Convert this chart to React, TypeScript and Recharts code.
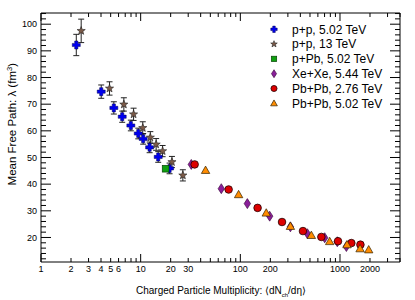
import { ScatterChart, Scatter, XAxis, YAxis, ErrorBar } from 'recharts';

// values
const ppFiveX = [2.26, 4.02, 5.38, 6.53, 7.97, 9.46, 10.6, 12.3, 15.0, 19.5];
const ppFiveY = [92.2, 74.7, 68.6, 65.3, 62.0, 59.0, 57.0, 53.8, 50.2, 45.9];
const ppFiveErr = [4.0, 2.5, 2.3, 2.1, 2.0, 2.0, 2.0, 2.0, 2.0, 2.0];

const ppThirteenX = [2.53, 4.87, 6.78, 8.49, 10.5, 12.5, 14.3, 16.6, 20.6, 26.5];
const ppThirteenY = [97.5, 75.9, 69.9, 66.2, 61.1, 57.5, 54.9, 52.4, 48.3, 43.3];
const ppThirteenErr = [4.4, 2.5, 2.5, 2.3, 2.3, 2.2, 2.2, 2.1, 2.1, 2.1];

const pPbX = [17.8];
const pPbY = [45.8];

const xeXeX = [32.2, 64.4, 117.6, 197, 318, 471, 702, 939, 1159];
const xeXeY = [47.4, 38.3, 32.7, 28.0, 24.0, 21.4, 19.9, 18.4, 16.6];

const pbPb276X = [34.8, 76.3, 149, 262, 425, 650, 955, 1300, 1603];
const pbPb276Y = [47.4, 38.0, 31.1, 25.8, 22.4, 20.2, 18.6, 17.9, 17.3];

const pbPb502X = [44.8, 96.1, 182, 318, 516, 788, 1175, 1590, 1941];
const pbPb502Y = [45.2, 36.1, 29.2, 24.2, 20.8, 18.5, 17.3, 15.8, 15.4];

const legendNames = [
  'p+p, 5.02 TeV',
  'p+p, 13 TeV',
  'p+Pb, 5.02 TeV',
  'Xe+Xe, 5.44 TeV',
  'Pb+Pb, 2.76 TeV',
  'Pb+Pb, 5.02 TeV',
];

const xTicks = [
  1, 2, 3, 4, 5, 6, 7, 8, 9, 10, 20, 30, 40, 50, 60, 70, 80, 90,
  100, 200, 300, 400, 500, 600, 700, 800, 900, 1000, 2000, 3000, 4000,
];
const xLabels = [1, 2, 3, 4, 5, 6, 10, 20, 30, 100, 200, 1000, 2000];
const yTicks = [
  12, 14, 16, 18, 20, 22, 24, 26, 28, 30, 32, 34, 36, 38, 40, 42, 44, 46, 48, 50,
  52, 54, 56, 58, 60, 62, 64, 66, 68, 70, 72, 74, 76, 78, 80, 82, 84, 86, 88, 90,
  92, 94, 96, 98, 100, 102, 104,
];
const yLabels = [20, 30, 40, 50, 60, 70, 80, 90, 100];

const W = 415;
const H = 300;
const L = 41;
const R = 400;
const T = 13;
const B = 262;
const FONT = '"Liberation Sans", Arial, Helvetica, sans-serif';

const zip = (xs: number[], ys: number[], errs?: number[]) =>
  xs.map((x, i) => ({ x, y: ys[i], err: errs ? errs[i] : 0 }));

const isDecade = (v: number) => [1, 10, 100, 1000].includes(v);

function CrossMark({ cx, cy, s = 1 }: { cx: number; cy: number; s?: number }) {
  const a = 4 * s;
  const w = 1.6 * s;
  const d = `M${cx - w},${cy - a} H${cx + w} V${cy - w} H${cx + a} V${cy + w} H${cx + w} V${cy + a} H${cx - w} V${cy + w} H${cx - a} V${cy - w} H${cx - w} Z`;
  return <path d={d} fill="#0000ee" stroke="#000055" strokeWidth={0.5} />;
}

function StarMark({ cx, cy, s = 1 }: { cx: number; cy: number; s?: number }) {
  const pts: string[] = [];
  for (let i = 0; i < 10; i++) {
    const r = (i % 2 === 0 ? 4.3 : 1.8) * s;
    const ang = -Math.PI / 2 + (i * Math.PI) / 5;
    pts.push(`${cx + r * Math.cos(ang)},${cy + r * Math.sin(ang)}`);
  }
  return <polygon points={pts.join(' ')} fill="#7b5a48" stroke="#222" strokeWidth={0.6} />;
}

function SquareMark({ cx, cy, s = 1 }: { cx: number; cy: number; s?: number }) {
  const h = 3.4 * s;
  return <rect x={cx - h} y={cy - h} width={2 * h} height={2 * h} fill="#10a010" stroke="#003300" strokeWidth={0.6} />;
}

function DiamondMark({ cx, cy, s = 1 }: { cx: number; cy: number; s?: number }) {
  const w = 3.2 * s;
  const h = 5 * s;
  return (
    <polygon
      points={`${cx},${cy - h} ${cx + w},${cy} ${cx},${cy + h} ${cx - w},${cy}`}
      fill="#8a1f9a"
      stroke="#330033"
      strokeWidth={0.6}
    />
  );
}

function CircleMark({ cx, cy, s = 1 }: { cx: number; cy: number; s?: number }) {
  return <circle cx={cx} cy={cy} r={3.8 * s} fill="#dd0000" stroke="#220000" strokeWidth={0.8} />;
}

function TriangleMark({ cx, cy, s = 1 }: { cx: number; cy: number; s?: number }) {
  const a = 4.2 * s;
  return (
    <polygon
      points={`${cx},${cy - a} ${cx + a},${cy + a * 0.75} ${cx - a},${cy + a * 0.75}`}
      fill="#ff8c00"
      stroke="#332200"
      strokeWidth={0.7}
    />
  );
}

const legendMarks = [CrossMark, StarMark, SquareMark, DiamondMark, CircleMark, TriangleMark];

function BottomTick(props: any) {
  const { x, payload } = props;
  const v = payload.value;
  const len = isDecade(v) ? 8 : 4;
  return (
    <g>
      <line x1={x} x2={x} y1={B} y2={B - len} stroke="#000" strokeWidth={1} />
      {xLabels.includes(v) && (
        <text x={x} y={B + 10} textAnchor="middle" fontSize={9} fontFamily={FONT} fill="#000">
          {v}
        </text>
      )}
    </g>
  );
}

function TopTick(props: any) {
  const { x, payload } = props;
  const len = isDecade(payload.value) ? 8 : 4;
  return <line x1={x} x2={x} y1={T} y2={T + len} stroke="#000" strokeWidth={1} />;
}

function LeftTick(props: any) {
  const { y, payload } = props;
  const v = payload.value;
  const len = v % 10 === 0 ? 10 : 5;
  return (
    <g>
      <line x1={L} x2={L + len} y1={y} y2={y} stroke="#000" strokeWidth={1} />
      {yLabels.includes(v) && (
        <text x={L - 4} y={y + 3.2} textAnchor="end" fontSize={9} fontFamily={FONT} fill="#000">
          {v}
        </text>
      )}
    </g>
  );
}

function RightTick(props: any) {
  const { y, payload } = props;
  const len = payload.value % 10 === 0 ? 10 : 5;
  return <line x1={R} x2={R - len} y1={y} y2={y} stroke="#000" strokeWidth={1} />;
}

export default function App() {
  const series = [
    { name: legendNames[0], data: zip(ppFiveX, ppFiveY, ppFiveErr), Mark: CrossMark, err: true },
    { name: legendNames[1], data: zip(ppThirteenX, ppThirteenY, ppThirteenErr), Mark: StarMark, err: true },
    { name: legendNames[2], data: zip(pPbX, pPbY), Mark: SquareMark, err: false },
    { name: legendNames[3], data: zip(xeXeX, xeXeY), Mark: DiamondMark, err: false },
    { name: legendNames[4], data: zip(pbPb276X, pbPb276Y), Mark: CircleMark, err: false },
    { name: legendNames[5], data: zip(pbPb502X, pbPb502Y), Mark: TriangleMark, err: false },
  ];

  return (
    <div style={{ position: 'fixed', left: 0, top: 0, width: W, height: H, background: '#fff' }}>
      <ScatterChart width={W} height={H} margin={{ top: 0, right: 0, bottom: 0, left: 0 }}>
        <XAxis
          dataKey="x"
          type="number"
          scale="log"
          domain={[1, 4000]}
          ticks={xTicks}
          interval={0}
          allowDataOverflow
          height={H - B}
          tick={BottomTick}
          tickLine={false}
          axisLine={{ stroke: '#000' }}
        />
        <XAxis
          xAxisId="top"
          orientation="top"
          dataKey="x"
          type="number"
          scale="log"
          domain={[1, 4000]}
          ticks={xTicks}
          interval={0}
          allowDataOverflow
          height={T}
          tick={TopTick}
          tickLine={false}
          axisLine={{ stroke: '#000' }}
        />
        <YAxis
          dataKey="y"
          type="number"
          domain={[10.8, 104.2]}
          ticks={yTicks}
          interval={0}
          allowDataOverflow
          width={L}
          tick={LeftTick}
          tickLine={false}
          axisLine={{ stroke: '#000' }}
        />
        <YAxis
          yAxisId="right"
          orientation="right"
          dataKey="y"
          type="number"
          domain={[10.8, 104.2]}
          ticks={yTicks}
          interval={0}
          allowDataOverflow
          width={W - R}
          tick={RightTick}
          tickLine={false}
          axisLine={{ stroke: '#000' }}
        />
        {series.map((s) => (
          <Scatter
            key={s.name}
            name={s.name}
            data={s.data}
            isAnimationActive={false}
            shape={(p: any) => <s.Mark cx={p.cx} cy={p.cy} />}
          >
            {s.err && (
              <ErrorBar dataKey="err" direction="y" width={3} stroke="#222" strokeWidth={1} isAnimationActive={false} />
            )}
          </Scatter>
        ))}
      </ScatterChart>
      <svg
        width={W}
        height={H}
        style={{ position: 'absolute', left: 0, top: 0, pointerEvents: 'none' }}
        fontFamily={FONT}
      >
        <text x={221} y={294} textAnchor="middle" fontSize={10} fill="#000">
          Charged Particle Multiplicity: ⟨dN
          <tspan dy={3} fontSize={6}>ch</tspan>
          <tspan dy={-3}>/dη⟩</tspan>
        </text>
        <text transform="translate(15.5,63) rotate(-90)" textAnchor="end" fontSize={11.5} fill="#000">
          Mean Free Path: λ (fm
          <tspan dy={-4} fontSize={7.5}>3</tspan>
          <tspan dy={4}>)</tspan>
        </text>
        {legendNames.map((name, i) => {
          const Mark = legendMarks[i];
          const cy = 29.3 + i * 14.8;
          return (
            <g key={name}>
              <Mark cx={274} cy={cy} s={0.8} />
              <text x={292} y={cy + 4.2} fontSize={12} fill="#000">
                {name}
              </text>
            </g>
          );
        })}
      </svg>
    </div>
  );
}
